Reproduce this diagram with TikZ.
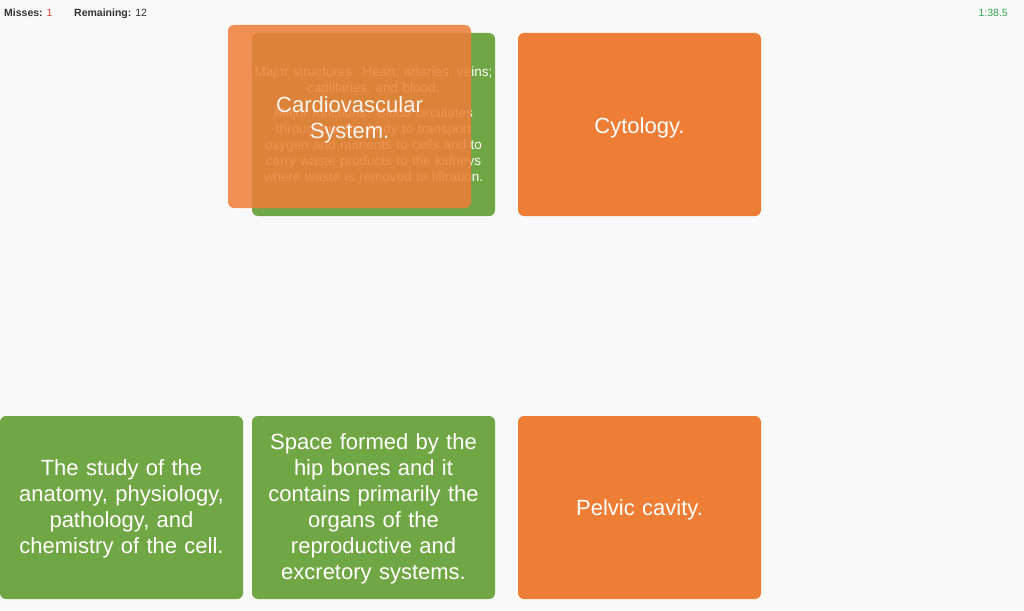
\documentclass[tikz,border=0pt]{standalone}
\usepackage{fontspec}
\setmainfont{Liberation Sans}
\definecolor{bgc}{HTML}{F9F9F9}
\definecolor{cardgreen}{HTML}{70A644}
\definecolor{cardorange}{HTML}{EE7D36}
\definecolor{hdrtext}{HTML}{333333}
\definecolor{missred}{HTML}{E8413C}
\definecolor{timegreen}{HTML}{2FA552}
\begin{document}
\begin{tikzpicture}[x=1pt,y=-1pt,
  card/.style={rounded corners=6pt, minimum width=243pt, minimum height=183pt,
    inner sep=0pt},
  greencard/.style={card, fill=cardgreen},
  orangecard/.style={card, fill=cardorange},
  cardtext/.style={text=white, align=center, text width=236pt, inner sep=0pt,
    font=\fontsize{22}{26}\selectfont},
  smalltext/.style={text=white, align=center, text width=240pt, inner sep=0pt,
    font=\fontsize{13.5}{16}\selectfont},
  hdr/.style={inner sep=0pt, font=\fontsize{10.5}{12}\selectfont, text=hdrtext}]
\useasboundingbox (0,0) rectangle (1024,610);
\fill[bgc] (0,0) rectangle (1024,610);
% header
\node[hdr, anchor=base west] (misses) at (4,17) {\textbf{Misses:} \textcolor{missred}{1}};
\node[hdr, anchor=base west] (remain) at (74,17) {\textbf{Remaining:} 12};
\node[hdr, anchor=base east, text=timegreen] (timer) at (1008,17) {1:38.5};
% top row
\node[greencard] (cardiobox) at (373.5,124.5) {};
\node[smalltext] (cardiotext) at (cardiobox.center) {Major structures: Heart; arteries; veins;\\ capillaries; and blood.\\[9pt]
Major functions: Blood circulates\\ throughout the body to transport\\ oxygen and nutrients to cells and to\\ carry waste products to the kidneys\\ where waste is removed to filtration.};
\node[orangecard, fill opacity=0.85] (cvsysbox) at (349.5,116.5) {};
\node[cardtext, text opacity=0.92, yshift=-3pt] (cvsys) at (cvsysbox.center) {Cardiovascular\\ System.};
\node[orangecard] (cytobox) at (639.5,124.5) {};
\node[cardtext, yshift=-3pt] (cyto) at (cytobox.center) {Cytology.};
% bottom row
\node[greencard] (studybox) at (121.5,507.5) {};
\node[cardtext, yshift=-1pt] (study) at (studybox.center) {The study of the\\ anatomy, physiology,\\ pathology, and\\ chemistry of the cell.};
\node[greencard] (spacebox) at (373.5,507.5) {};
\node[cardtext, yshift=-1pt] (space) at (spacebox.center) {Space formed by the\\ hip bones and it\\ contains primarily the\\ organs of the\\ reproductive and\\ excretory systems.};
\node[orangecard] (pelvicbox) at (639.5,507.5) {};
\node[cardtext, yshift=-2pt] (pelvic) at (pelvicbox.center) {Pelvic cavity.};
\end{tikzpicture}
\end{document}
